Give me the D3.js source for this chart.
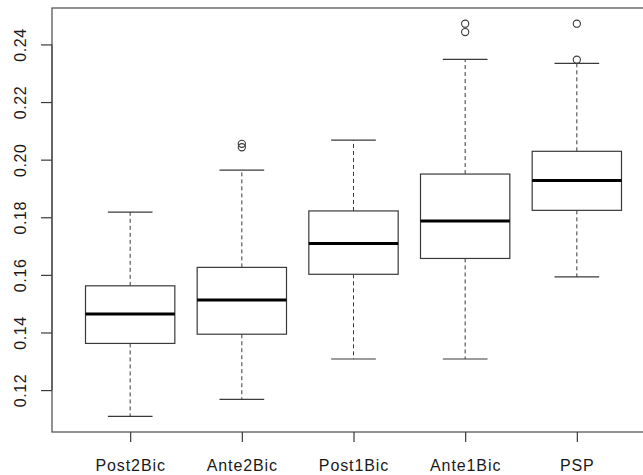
<!DOCTYPE html>
<html>
<head>
<meta charset="utf-8">
<script src="https://cdn.jsdelivr.net/npm/d3@7"></script>
<style>
  html, body { margin: 0; padding: 0; background: #fff; }
  svg { display: block; }
  text { font-family: "Liberation Sans", Arial, Helvetica, sans-serif; fill: #1a1a1a; }
</style>
</head>
<body>
<svg id="chart" width="643" height="475"></svg>
<script>
// ---- data ----
const categories = ["Post2Bic", "Ante2Bic", "Post1Bic", "Ante1Bic", "PSP"];
const whiskerLow  = [0.1109, 0.1168, 0.1308, 0.1308, 0.1593];
const quartile1   = [0.1362, 0.1394, 0.1602, 0.1657, 0.1824];
const medians     = [0.1464, 0.1513, 0.1709, 0.1787, 0.1928];
const quartile3   = [0.1562, 0.1626, 0.1822, 0.1950, 0.2029];
const whiskerHigh = [0.1818, 0.1964, 0.2068, 0.2348, 0.2334];
const outliers    = [[], [0.2043, 0.2055], [], [0.2443, 0.2472], [0.2347, 0.2472]];
const yTicks      = [0.12, 0.14, 0.16, 0.18, 0.20, 0.22, 0.24];

(function () {
const rows = categories.map((c, i) => ({
  cat: c, lo: whiskerLow[i], q1: quartile1[i], med: medians[i],
  q3: quartile3[i], hi: whiskerHigh[i], out: outliers[i]
}));

const svg = d3.select("#chart");
const mLeft = 52, mRight = 655, mTop = 8, mBottom = 432;

// y domain: data range extended by 4% (R style)
const allVals = whiskerLow.concat(whiskerHigh, outliers.flat());
const vmin = d3.min(allVals), vmax = d3.max(allVals);
const pad = (vmax - vmin) * 0.04;
const y = d3.scaleLinear().domain([vmin - pad, vmax + pad]).range([mBottom, mTop]);
const x = d3.scalePoint().domain(categories).range([mLeft, mRight]).padding(0.7);
const step = x.step();
const boxW = step * 0.8;
const capW = boxW * 0.5;

const lineCol = "#3a3a3a";

const g = svg.append("g");
rows.forEach(d => {
  const cx = x(d.cat);
  g.append("line").attr("x1", cx).attr("x2", cx).attr("y1", y(d.q3)).attr("y2", y(d.hi))
    .attr("stroke", lineCol).attr("stroke-width", 1).attr("stroke-dasharray", "4,3");
  g.append("line").attr("x1", cx).attr("x2", cx).attr("y1", y(d.q1)).attr("y2", y(d.lo))
    .attr("stroke", lineCol).attr("stroke-width", 1).attr("stroke-dasharray", "4,3");
  [d.lo, d.hi].forEach(v => {
    g.append("line").attr("x1", cx - capW / 2).attr("x2", cx + capW / 2)
      .attr("y1", y(v)).attr("y2", y(v))
      .attr("stroke", lineCol).attr("stroke-width", 1.2);
  });
  g.append("rect").attr("x", cx - boxW / 2).attr("width", boxW)
    .attr("y", y(d.q3)).attr("height", y(d.q1) - y(d.q3))
    .attr("fill", "none").attr("stroke", lineCol).attr("stroke-width", 1.2);
  g.append("line").attr("x1", cx - boxW / 2).attr("x2", cx + boxW / 2)
    .attr("y1", y(d.med)).attr("y2", y(d.med))
    .attr("stroke", "#000").attr("stroke-width", 3);
  d.out.forEach(v => {
    g.append("circle").attr("cx", cx).attr("cy", y(v)).attr("r", 3.6)
      .attr("fill", "none").attr("stroke", lineCol).attr("stroke-width", 1.1);
  });
});

// plot frame
svg.append("rect").attr("x", mLeft).attr("y", mTop)
  .attr("width", mRight - mLeft).attr("height", mBottom - mTop)
  .attr("fill", "none").attr("stroke", "#4a4a4a").attr("stroke-width", 1.2);

// x axis
const xAxis = svg.append("g").attr("transform", `translate(0,${mBottom})`)
  .call(d3.axisBottom(x).tickSize(10).tickSizeOuter(0));
xAxis.select(".domain").remove();
xAxis.selectAll(".tick line").attr("stroke", lineCol).attr("stroke-width", 1.2);
xAxis.selectAll(".tick text")
  .attr("y", 39).attr("dy", null)
  .style("font-size", "16px").style("letter-spacing", "0.9px")
  .attr("fill", "#1a1a1a");
xAxis.attr("font-family", null).attr("font-size", null);

// y axis
const yAxis = svg.append("g").attr("transform", `translate(${mLeft},0)`)
  .call(d3.axisLeft(y).tickValues(yTicks).tickFormat(d3.format(".2f")).tickSize(11).tickSizeOuter(0));
yAxis.select(".domain").remove();
yAxis.selectAll(".tick line").attr("stroke", lineCol).attr("stroke-width", 1.2);
yAxis.selectAll(".tick text")
  .attr("x", null).attr("dy", null)
  .attr("text-anchor", "middle")
  .attr("transform", "translate(-26,0) rotate(-90)")
  .style("font-size", "16px").style("letter-spacing", "0.6px")
  .attr("fill", "#1a1a1a");
yAxis.attr("font-family", null).attr("font-size", null).attr("text-anchor", null);

svg.append("line").attr("x1", mLeft).attr("x2", mLeft)
  .attr("y1", y(yTicks[0])).attr("y2", y(yTicks[yTicks.length - 1]))
  .attr("stroke", "#4a4a4a").attr("stroke-width", 1.2);
})();
</script>
</body>
</html>
